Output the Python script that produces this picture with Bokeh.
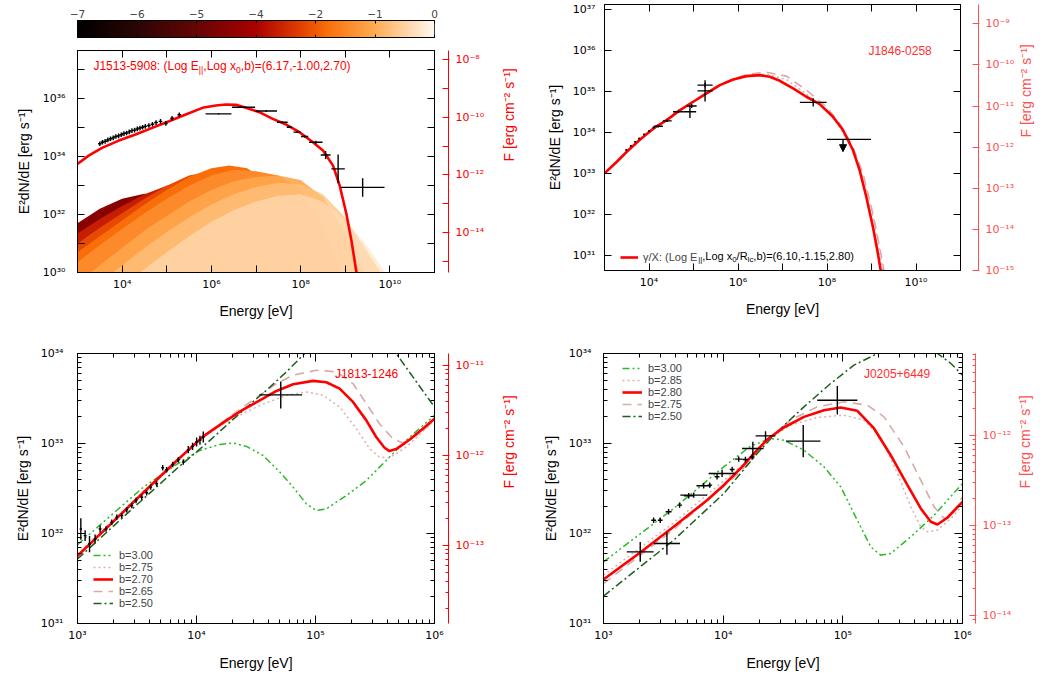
import math
import numpy as np
from bokeh.plotting import figure
from bokeh.models import (Range1d, LogAxis, LinearAxis, FixedTicker, CustomJSTickFormatter,
                          LogScale, Label, Legend, LegendItem, Arrow, NormalHead)
from bokeh.layouts import row, column
from bokeh.embed import file_html
from bokeh.resources import INLINE

FONT = "Liberation Sans"
TICKFONT = "DejaVu Sans"

# ============================ DATA (log10 values) ============================
# colour bar
cbar_tick_pos = [0, 1, 2, 3, 4, 5, 6]
cbar_tick_labels = ["\u22127", "\u22126", "\u22125", "\u22124", "\u22122", "\u22121", "0"]

# ---- J1513-5908 (top left) ----
j1513_model_logE = [3.0, 3.25, 3.55, 3.925, 4.30, 4.675, 5.05, 5.425, 5.80, 6.10, 6.326, 6.551, 6.776,
                    7.076, 7.376, 7.676, 7.976, 8.276, 8.501, 8.726, 8.876, 9.026, 9.139, 9.251]
j1513_model_logL = [33.75, 34.039, 34.304, 34.558, 34.766, 34.997, 35.227, 35.458, 35.689, 35.769, 35.804,
                    35.792, 35.689, 35.539, 35.308, 35.112, 34.847, 34.501, 34.213, 33.693, 33.001, 32.021,
                    31.099, 30.0]
j1513_x_logE = [3.50, 3.56, 3.62, 3.68, 3.74, 3.80, 3.86, 3.92, 3.98, 4.04, 4.10, 4.16, 4.22, 4.28, 4.34,
                4.40, 4.46, 4.52, 4.60, 4.68, 4.76, 4.86, 4.98, 5.12, 5.28]
j1513_x_logL = [34.45, 34.50, 34.53, 34.58, 34.62, 34.65, 34.70, 34.72, 34.76, 34.80, 34.82, 34.86, 34.90,
                34.92, 34.96, 34.99, 35.02, 35.05, 35.08, 35.12, 35.18, 35.22, 35.15, 35.33, 35.45]
j1513_x_dE = [0.04] * 25
j1513_x_dL = [0.08] * 25
j1513_g_logE = [6.16, 6.72, 7.23, 7.59, 7.75, 7.92, 8.09, 8.34, 8.56, 8.84, 9.39]
j1513_g_logL = [35.48, 35.71, 35.58, 35.19, 35.02, 34.85, 34.70, 34.50, 34.06, 33.58, 32.94]
j1513_g_dE = [0.29, 0.26, 0.24, 0.12, 0.06, 0.08, 0.08, 0.15, 0.11, 0.15, 0.49]
j1513_g_dL = [0.02, 0.02, 0.03, 0.03, 0.03, 0.03, 0.04, 0.05, 0.14, 0.50, 0.32]

# family of spectra coloured by Log((x-x_in)/R_lc) (position on colour bar, 0..1)
fam_t = [0.22, 0.32, 0.42, 0.56, 0.64, 0.70, 0.76, 0.82, 0.88, 0.95]
fam_alpha = [1.0, 1.0, 1.0, 1.0, 1.0, 1.0, 1.0, 0.9, 0.75, 0.6]
fam_logE = [
    [3.0, 3.5, 4.0, 4.5, 5.0, 5.3],
    [3.0, 3.5, 4.0, 4.5, 5.0, 5.4, 5.7],
    [3.0, 3.5, 4.0, 4.5, 5.0, 5.5, 5.9, 6.1],
    [3.0, 3.5, 4.0, 4.5, 5.0, 5.5, 6.0, 6.4, 6.7],
    [3.0, 3.5, 4.0, 4.5, 5.0, 5.5, 6.0, 6.5, 7.0, 7.4],
    [3.0, 3.5, 4.0, 4.5, 5.0, 5.5, 6.0, 6.4, 6.8, 7.2, 7.7, 8.1],
    [3.0, 3.5, 4.0, 4.5, 5.0, 5.5, 6.0, 6.5, 7.0, 7.5, 8.0, 8.5, 8.9],
    [3.3, 3.5, 4.0, 4.5, 5.0, 5.5, 6.0, 6.5, 7.0, 7.5, 8.0, 8.5, 9.0, 9.4],
    [3.8, 4.0, 4.5, 5.0, 5.5, 6.0, 6.5, 7.0, 7.5, 8.0, 8.5, 9.0, 9.5, 9.8],
    [4.4, 5.0, 5.5, 6.0, 6.5, 7.0, 7.5, 8.0, 8.5, 9.0, 9.5, 9.9],
]
fam_logL = [
    [31.0, 31.4, 31.6, 31.4, 30.7, 30.0],
    [31.5, 32.0, 32.35, 32.45, 32.1, 31.2, 30.0],
    [31.7, 32.2, 32.55, 32.72, 32.6, 32.0, 30.8, 30.0],
    [31.35, 31.85, 32.3, 32.7, 33.0, 33.1, 32.7, 31.5, 30.0],
    [31.0, 31.55, 32.05, 32.55, 33.0, 33.35, 33.5, 33.2, 31.9, 30.0],
    [30.7, 31.25, 31.8, 32.35, 32.85, 33.3, 33.6, 33.7, 33.6, 33.2, 32.0, 30.0],
    [30.35, 30.95, 31.5, 32.05, 32.55, 33.0, 33.35, 33.55, 33.5, 33.35, 32.9, 31.6, 30.0],
    [30.0, 30.25, 30.85, 31.45, 31.95, 32.45, 32.85, 33.15, 33.3, 33.35, 33.2, 32.6, 31.4, 30.0],
    [30.0, 30.25, 30.85, 31.4, 31.9, 32.35, 32.7, 32.95, 33.1, 33.05, 32.7, 31.9, 30.7, 30.0],
    [30.0, 30.7, 31.25, 31.75, 32.15, 32.45, 32.65, 32.7, 32.45, 31.8, 30.9, 30.0],
]

# ---- J1846-0258 (top right) ----
j1846_red_logE = [3.0, 3.277, 3.501, 3.80, 4.099, 4.398, 4.697, 4.995, 5.294, 5.593, 5.892, 6.191, 6.49,
                  6.714, 6.939, 7.238, 7.536, 7.835, 8.134, 8.359, 8.583, 8.732, 8.882, 9.031, 9.143, 9.218]
j1846_red_logL = [33.002, 33.286, 33.528, 33.828, 34.096, 34.298, 34.541, 34.744, 34.947, 35.149, 35.287,
                  35.368, 35.392, 35.352, 35.255, 35.069, 34.866, 34.688, 34.38, 34.056, 33.57, 33.084,
                  32.436, 31.706, 31.058, 30.572]
j1846_dash_logE = [3.0, 3.80, 4.697, 5.593, 6.191, 6.64, 7.088, 7.536, 7.985, 8.284, 8.583, 8.807, 9.031,
                   9.181, 9.293]
j1846_dash_logL = [33.002, 33.836, 34.557, 35.173, 35.408, 35.465, 35.368, 35.028, 34.623, 34.217, 33.65,
                   33.002, 32.03, 31.22, 30.571]
j1846_dot_logE = [3.0, 3.80, 4.697, 5.593, 6.191, 6.64, 7.088, 7.536, 7.985, 8.284, 8.583, 8.807, 9.031, 9.256]
j1846_dot_logL = [33.002, 33.828, 34.541, 35.157, 35.384, 35.417, 35.287, 34.931, 34.541, 34.137, 33.57,
                  32.922, 31.949, 30.652]
j1846_logE = [3.49, 3.59, 3.69, 3.78, 3.89, 4.00, 4.11, 4.21, 4.41, 4.66, 4.92, 4.96, 5.26, 5.26, 7.69]
j1846_logL = [33.57, 33.67, 33.77, 33.85, 33.95, 34.03, 34.12, 34.15, 34.28, 34.50, 34.50, 34.64, 35.01,
              35.15, 34.73]
j1846_dE = [0.02, 0.02, 0.02, 0.02, 0.02, 0.02, 0.03, 0.10, 0.10, 0.12, 0.14, 0.11, 0.17, 0.17, 0.30]
j1846_dL = [0.02, 0.02, 0.02, 0.02, 0.02, 0.02, 0.02, 0.03, 0.03, 0.03, 0.15, 0.05, 0.26, 0.05, 0.10]
j1846_ul_logE = [8.36]
j1846_ul_lo = [8.0]
j1846_ul_hi = [8.99]
j1846_ul_logL = [33.83]
j1846_ul_tip = [33.53]

# ---- J1813-1246 (bottom left) ----
j1813_b = ["b=3.00", "b=2.75", "b=2.70", "b=2.65", "b=2.50"]
j1813_logE = {
    "b=2.70": [3.0, 3.274, 3.554, 3.833, 4.057, 4.252, 4.392, 4.532, 4.672, 4.812, 4.979, 5.091, 5.203,
               5.315, 5.427, 5.51, 5.58, 5.622, 5.678, 5.79, 5.902, 6.0],
    "b=2.65": [3.0, 3.554, 4.057, 4.252, 4.392, 4.532, 4.672, 4.812, 5.007, 5.175, 5.315, 5.427, 5.538,
               5.65, 5.734, 5.846, 6.0],
    "b=2.75": [3.0, 3.554, 4.057, 4.252, 4.532, 4.756, 4.923, 5.063, 5.203, 5.343, 5.455, 5.538, 5.622,
               5.762, 6.0],
    "b=3.00": [3.0, 3.554, 3.833, 4.029, 4.197, 4.308, 4.42, 4.56, 4.70, 4.812, 4.923, 5.007, 5.091,
               5.259, 5.427, 5.594, 5.762, 6.0],
    "b=2.50": [3.0, 3.414, 3.833, 4.113, 4.392, 4.588, 4.756, 4.909, 5.0, 5.3, 5.55, 5.678, 5.818, 6.0],
}
j1813_logL = {
    "b=2.70": [31.753, 32.099, 32.455, 32.808, 33.079, 33.257, 33.376, 33.48, 33.584, 33.658, 33.696,
               33.681, 33.61, 33.462, 33.257, 33.072, 32.953, 32.916, 32.938, 33.042, 33.165, 33.276],
    "b=2.65": [31.742, 32.448, 33.079, 33.272, 33.406, 33.536, 33.666, 33.759, 33.814, 33.796, 33.666,
               33.443, 33.22, 33.053, 33.005, 33.09, 33.25],
    "b=2.75": [31.772, 32.47, 33.072, 33.239, 33.424, 33.536, 33.573, 33.536, 33.406, 33.165, 32.942,
               32.849, 32.841, 32.96, 33.257],
    "b=3.00": [31.876, 32.515, 32.767, 32.923, 32.99, 33.005, 32.968, 32.867, 32.682, 32.515, 32.329,
               32.255, 32.273, 32.422, 32.589, 32.812, 33.035, 33.313],
    "b=2.50": [31.716, 32.218, 32.719, 33.035, 33.369, 33.592, 33.796, 34.0, 34.1, 34.25, 34.12, 34.0,
               33.74, 33.406],
}
j1813_data_logE = [3.028, 3.064, 3.101, 3.148, 3.190, 3.240, 3.288, 3.330, 3.372, 3.414, 3.456, 3.492,
                   3.540, 3.581, 3.615, 3.665, 3.716, 3.749, 3.800, 3.847, 3.889, 3.931, 3.967, 4.001,
                   4.029, 4.057, 4.708]
j1813_data_logL = [32.05, 31.976, 31.883, 31.939, 32.05, 32.05, 32.125, 32.18, 32.199, 32.262, 32.31,
                   32.366, 32.403, 32.452, 32.515, 32.552, 32.73, 32.708, 32.767, 32.819, 32.793, 32.931,
                   32.968, 33.016, 33.035, 33.072, 33.54]
j1813_data_dE = [0.01] + [0.012] * 25 + [0.18]
j1813_data_dL = [0.12, 0.06, 0.09, 0.05, 0.04, 0.03, 0.03, 0.03, 0.03, 0.03, 0.03, 0.03, 0.03, 0.03,
                 0.03, 0.03, 0.03, 0.03, 0.03, 0.03, 0.03, 0.04, 0.04, 0.05, 0.05, 0.06, 0.15]

# ---- J0205+6449 (bottom right) ----
j0205_b = ["b=3.00", "b=2.85", "b=2.80", "b=2.75", "b=2.50"]
j0205_logE = {
    "b=2.80": [3.0, 3.307, 3.586, 3.865, 4.005, 4.144, 4.284, 4.368, 4.507, 4.675, 4.842, 4.982, 5.121,
               5.261, 5.40, 5.54, 5.651, 5.735, 5.791, 5.875, 6.0],
    "b=2.75": [3.0, 3.586, 4.144, 4.368, 4.563, 4.786, 5.009, 5.205, 5.344, 5.512, 5.651, 5.763, 5.847,
               5.903, 6.0],
    "b=2.85": [3.0, 3.586, 4.144, 4.368, 4.563, 4.786, 5.009, 5.177, 5.316, 5.456, 5.568, 5.651, 5.707,
               5.791, 5.903, 6.0],
    "b=3.00": [3.0, 3.586, 4.005, 4.228, 4.396, 4.507, 4.675, 4.842, 4.982, 5.121, 5.233, 5.316, 5.40,
               5.568, 5.763, 6.0],
    "b=2.50": [3.0, 3.586, 4.005, 4.284, 4.451, 4.675, 4.898, 5.093, 5.289, 5.6, 5.791, 5.903, 6.0],
}
j0205_logL = {
    "b=2.80": [31.489, 31.789, 32.074, 32.37, 32.537, 32.722, 32.926, 33.044, 33.178, 33.296, 33.37, 33.40,
               33.363, 33.167, 32.87, 32.537, 32.278, 32.13, 32.10, 32.178, 32.352],
    "b=2.75": [31.444, 32.044, 32.685, 33.044, 33.259, 33.407, 33.463, 33.426, 33.296, 32.963, 32.593,
               32.296, 32.167, 32.185, 32.407],
    "b=2.85": [31.537, 32.119, 32.741, 33.044, 33.204, 33.289, 33.315, 33.259, 33.074, 32.667, 32.296,
               32.074, 32.019, 32.037, 32.167, 32.315],
    "b=3.00": [31.685, 32.278, 32.741, 32.97, 33.056, 33.037, 32.926, 32.741, 32.519, 32.148, 31.852,
               31.759, 31.778, 31.963, 32.204, 32.556],
    "b=2.50": [31.304, 31.926, 32.444, 32.889, 33.13, 33.407, 33.667, 33.87, 34.0, 34.15, 34.0, 33.889,
               33.759],
}
j0205_data_logE = [3.307, 3.419, 3.474, 3.544, 3.530, 3.636, 3.712, 3.754, 3.837, 3.888, 3.949, 3.991,
                   4.075, 4.130, 4.186, 4.248, 4.242, 4.354, 4.669, 4.954]
j0205_data_logL = [31.796, 32.148, 32.148, 32.241, 31.889, 32.315, 32.419, 32.426, 32.53, 32.537, 32.63,
                   32.667, 32.711, 32.826, 32.822, 32.944, 32.85, 33.085, 33.026, 33.481]
j0205_data_dE = [0.112, 0.02, 0.02, 0.025, 0.109, 0.02, 0.04, 0.112, 0.06, 0.02, 0.02, 0.112, 0.02, 0.03,
                 0.025, 0.09, 0.02, 0.083, 0.144, 0.168]
j0205_data_dL = [0.11, 0.03, 0.03, 0.03, 0.126, 0.03, 0.03, 0.03, 0.03, 0.03, 0.03, 0.04, 0.03, 0.03,
                 0.03, 0.075, 0.03, 0.05, 0.18, 0.158]

# ============================ STYLE ============================
CMAP_STOPS = [(0.0, (0, 0, 0)), (0.17, (45, 5, 5)), (0.33, (100, 5, 5)), (0.5, (170, 0, 0)),
              (0.62, (225, 60, 0)), (0.7, (250, 110, 10)), (0.83, (255, 170, 80)), (1.0, (255, 248, 240))]


def cmap(t):
    for (t0, c0), (t1, c1) in zip(CMAP_STOPS[:-1], CMAP_STOPS[1:]):
        if t <= t1:
            f = (t - t0) / (t1 - t0)
            c = [int(round(a + (b - a) * f)) for a, b in zip(c0, c1)]
            return "#%02x%02x%02x" % tuple(c)
    return "#%02x%02x%02x" % CMAP_STOPS[-1][1]


PALETTE = [cmap(i / 255) for i in range(256)]

LINESTYLE = {
    "b=3.00": dict(color="#2db82d", dash="7 3 2 3 2 3 2 3", width=1.5),
    "b=2.75a": dict(color="#dcb0b0", dash="2 3", width=1.5),
    "b=2.85": dict(color="#dcb0b0", dash="2 3", width=1.5),
    "red": dict(color="#ff0000", dash="solid", width=2.6),
    "b=2.65": dict(color="#d9aaaa", dash="9 6", width=1.6),
    "b=2.75b": dict(color="#d9aaaa", dash="9 6", width=1.6),
    "b=2.50": dict(color="#1d5f1d", dash="8 3 2 3", width=1.5),
}

AW = {' ': .278, '(': .333, ')': .333, ',': .278, '-': .333, '.': .278, '/': .278, ':': .278, '=': .584,
      '+': .584, '|': .26, 'E': .667, 'J': .5, 'L': .556, 'R': .722, 'X': .667, 'b': .556, 'c': .5,
      'g': .556, 'i': .222, 'l': .222, 'n': .556, 'o': .556, 'x': .5, '\u03b3': .52, '\u2212': .584}

SUPCODE = """
const m = {'0':'\u2070','1':'\u00b9','2':'\u00b2','3':'\u00b3','4':'\u2074','5':'\u2075','6':'\u2076','7':'\u2077','8':'\u2078','9':'\u2079','-':'\u207b'};
const e = Math.round(Math.log10(tick));
return '10' + String(e).split('').map(c => m[c]).join('');
"""


def text_width(s, fs):
    return sum(AW.get(c, 0.556) for c in s) * fs


def rich(p, x, y, pieces, size, color, center=False, start=0.0, baseline="alphabetic"):
    widths = [text_width(t, size * (0.72 if s else 1.0)) for t, s in pieces]
    off = -sum(widths) / 2 if center else start
    for (txt, sub), w in zip(pieces, widths):
        fs = size * (0.72 if sub else 1.0)
        p.add_layout(Label(x=x, y=y, x_offset=off, y_offset=(-0.3 * size if sub else 0), text=txt,
                           text_font=FONT, text_font_size="%.1fpx" % fs, text_color=color,
                           text_baseline=baseline, text_align="left"))
        off += w


def decades(a, b):
    return [10.0 ** k for k in range(a, b + 1)]


def logminors(a, b):
    return [m * 10.0 ** k for k in range(a, b + 1) for m in range(2, 10)]


def style_axis(ax, ticks, minors, color="black", tin=7, minin=4, tout=0, label=None, fs="11px",
               lab_so=6, axl_so=8, axl_fs="14px"):
    ax.ticker = FixedTicker(ticks=ticks, minor_ticks=minors)
    ax.formatter = CustomJSTickFormatter(code=SUPCODE)
    ax.major_tick_in = tin
    ax.major_tick_out = tout
    ax.minor_tick_in = minin
    ax.minor_tick_out = 0
    ax.axis_line_color = color
    ax.major_tick_line_color = color
    ax.minor_tick_line_color = color
    ax.major_label_text_color = color
    ax.major_label_text_font = TICKFONT
    ax.major_label_text_font_size = fs
    ax.major_label_standoff = lab_so
    ax.axis_label = label
    ax.axis_label_text_font = FONT
    ax.axis_label_text_font_size = axl_fs
    ax.axis_label_text_font_style = "normal"
    ax.axis_label_text_color = color
    ax.axis_label_standoff = axl_so


def mirror(ticks, minors, tin, minin):
    ax = LogAxis(ticker=FixedTicker(ticks=ticks, minor_ticks=minors))
    ax.formatter = CustomJSTickFormatter(code="return ''")
    ax.major_label_text_color = None
    ax.major_label_standoff = 0
    ax.major_tick_in = tin
    ax.major_tick_out = 0
    ax.minor_tick_in = minin
    ax.minor_tick_out = 0
    return ax


def spacer(gap):
    ax = LinearAxis(ticker=FixedTicker(ticks=[]))
    ax.formatter = CustomJSTickFormatter(code="return ''")
    ax.major_label_text_color = None
    ax.major_label_standoff = 0
    ax.axis_line_color = None
    ax.major_tick_line_color = None
    ax.minor_tick_line_color = None
    ax.major_tick_in = 0
    ax.major_tick_out = 0
    ax.minor_tick_out = 0
    ax.axis_label = " "
    ax.axis_label_text_color = None
    ax.axis_label_text_font_size = "%dpx" % gap
    ax.axis_label_standoff = 0
    return ax


def panel(w, h, xr, yr, mb, fr, xt, xm, yt, ym, ft, fm, fcolor, tin, minin, ylab_so, flab_so, gap, xlab_so,
          ytick_so):
    p = figure(width=w, height=h, x_axis_type="log", y_axis_type="log",
               x_range=Range1d(10 ** xr[0], 10 ** xr[1]), y_range=Range1d(10 ** yr[0], 10 ** yr[1]),
               output_backend="svg", toolbar_location=None,
               min_border_left=mb[0], min_border_right=mb[1], min_border_top=mb[2], min_border_bottom=mb[3])
    p.xgrid.grid_line_color = None
    p.ygrid.grid_line_color = None
    p.outline_line_color = "black"
    p.outline_line_width = 1
    style_axis(p.xaxis[0], xt, xm, tin=tin, minin=minin, label="Energy [eV]", lab_so=5, axl_so=xlab_so)
    style_axis(p.yaxis[0], yt, ym, tin=tin, minin=minin, label="E\u00b2dN/dE [erg s\u207b\u00b9]",
               lab_so=ytick_so, axl_so=ylab_so)
    p.add_layout(mirror(xt, xm, tin, minin), "above")
    p.add_layout(mirror(yt, ym, tin, minin), "right")
    p.add_layout(spacer(gap), "right")
    p.extra_y_ranges = {"F": Range1d(fr[0], fr[1])}
    p.extra_y_scales = {"F": LogScale()}
    fax = LogAxis(y_range_name="F")
    style_axis(fax, ft, fm, color=fcolor, tin=6, minin=6 if minin == tin else 3, tout=1,
               label="F [erg cm\u207b\u00b2 s\u207b\u00b9]", lab_so=6, axl_so=flab_so)
    fax.axis_label_orientation = math.pi / 2
    p.add_layout(fax, "right")
    return p


def crosses(p, logE, logL, dE, dL, width=1.3):
    E, L, dE, dL = map(np.asarray, (logE, logL, dE, dL))
    p.segment(x0=10 ** (E - dE), y0=10 ** L, x1=10 ** (E + dE), y1=10 ** L, line_color="black", line_width=width)
    p.segment(x0=10 ** E, y0=10 ** (L - dL), x1=10 ** E, y1=10 ** (L + dL), line_color="black", line_width=width)


def curve(p, logE, logL, style):
    s = LINESTYLE[style]
    return p.line(10 ** np.asarray(logE), 10 ** np.asarray(logL), line_color=s["color"],
                  line_dash=s["dash"], line_width=s["width"])


def b_legend(p, renderers, labels, loc):
    items = [LegendItem(label=l, renderers=[r]) for l, r in zip(labels, renderers)]
    lg = Legend(items=items, location=loc, padding=0, margin=0, spacing=0, glyph_width=20,
                glyph_height=10, label_height=10, label_standoff=6, label_text_font=FONT,
                label_text_font_size="11px", label_text_line_height=0.95, border_line_alpha=0,
                background_fill_alpha=0)
    p.add_layout(lg)


# ============================ COLOUR BAR ============================
cb = figure(width=528, height=45, x_range=Range1d(0, 6), y_range=Range1d(0, 1), output_backend="svg",
            toolbar_location=None, x_axis_location="above", y_axis_location=None,
            min_border_left=77, min_border_right=93, min_border_top=20, min_border_bottom=8)
cb.xgrid.grid_line_color = None
cb.ygrid.grid_line_color = None
cb.outline_line_color = "black"
cb.image(image=[np.linspace(0, 1, 256).reshape(1, -1)], x=0, y=0, dw=6, dh=1, palette=PALETTE,
         level="image")
ax = cb.xaxis[0]
ax.ticker = FixedTicker(ticks=cbar_tick_pos)
ax.major_label_overrides = {k: v for k, v in zip(cbar_tick_pos, cbar_tick_labels)}
ax.major_tick_in = 3
ax.major_tick_out = 0
ax.minor_tick_line_color = None
ax.major_label_standoff = 3
ax.major_label_text_font = TICKFONT
ax.major_label_text_font_size = "10.5px"
bax = LinearAxis(ticker=FixedTicker(ticks=cbar_tick_pos), major_label_text_color=None,
                 formatter=CustomJSTickFormatter(code="return ''"),
                 major_label_standoff=0, major_tick_in=3, major_tick_out=0, minor_tick_line_color=None)
cb.add_layout(bax, "below")
rich(cb, 3, 1.74, [("Log((x\u2212x", False), ("in", True), (")/R", False), ("lc", True), (")", False)],
     10.5, "black", center=True)

# ============================ PANEL 1: J1513-5908 ============================
p1 = panel(528, 293, (3, 11), (30, 37.67), (77, 93, 5, 66), (10 ** (30 - 45.37), 10 ** (37.67 - 45.37)),
           [1e4, 1e6, 1e8, 1e10], [1e5, 1e7, 1e9], [1e30, 1e32, 1e34, 1e36], [1e31, 1e33, 1e35, 1e37],
           [1e-8, 1e-10, 1e-12, 1e-14], [1e-9, 1e-11, 1e-13, 1e-15], "#ff0000", 7, 7, 8, 22, 10, 9, 12)
for t, a, le, ll in zip(fam_t, fam_alpha, fam_logE, fam_logL):
    p1.varea(x=10 ** np.asarray(le), y1=1e29, y2=10 ** np.asarray(ll), fill_color=cmap(t), fill_alpha=a)
curve(p1, j1513_model_logE, j1513_model_logL, "red")
crosses(p1, j1513_x_logE, j1513_x_logL, j1513_x_dE, j1513_x_dL, width=1.4)
crosses(p1, j1513_g_logE, j1513_g_logL, j1513_g_dE, j1513_g_dL, width=1.4)
rich(p1, 10 ** 3.357, 10 ** 37.12,
     [("J1513-5908: (Log E", False), ("||", True), (",Log x", False), ("0", True),
      (",b)=(6.17,-1.00,2.70)", False)], 12, "#ff0000")

# ============================ PANEL 2: J1846-0258 ============================
RED2 = "#ff5050"
p2 = panel(518, 338, (3, 11), (30.64, 37.11), (76, 86, 4, 68), (1e-15, 10 ** (37.11 - 45.64)),
           [1e4, 1e6, 1e8, 1e10], [1e5, 1e7, 1e9], decades(31, 37), [], decades(-15, -9), [],
           RED2, 7, 7, 7, 9, 13, 9, 9)
curve(p2, j1846_dot_logE, j1846_dot_logL, "b=2.85")
curve(p2, j1846_dash_logE, j1846_dash_logL, "b=2.65")
r2 = curve(p2, j1846_red_logE, j1846_red_logL, "red")
crosses(p2, j1846_logE, j1846_logL, j1846_dE, j1846_dL, width=1.4)
ulE = 10 ** np.asarray(j1846_ul_logE)
p2.segment(x0=10 ** np.asarray(j1846_ul_lo), y0=10 ** np.asarray(j1846_ul_logL),
           x1=10 ** np.asarray(j1846_ul_hi), y1=10 ** np.asarray(j1846_ul_logL), line_color="black", line_width=1.4)
p2.add_layout(Arrow(end=NormalHead(size=7, fill_color="black", line_color="black"),
                    x_start=ulE[0], y_start=10 ** j1846_ul_logL[0], x_end=ulE[0], y_end=10 ** j1846_ul_tip[0],
                    line_color="black", line_width=1.4))
LEG2_FIRST = "\u03b3/X: (Log E"
p2.add_layout(Legend(items=[LegendItem(label=LEG2_FIRST, renderers=[r2])], location=(16, 7), padding=0,
                     margin=0, glyph_width=18, glyph_height=8, label_height=8, label_standoff=5,
                     label_text_font=FONT, label_text_font_size="11px", border_line_alpha=0,
                     background_fill_alpha=0))
rich(p2, 10 ** 3.0, 10 ** (30.64 + 14 / 41.1),
     [("||", True), (",Log x", False), ("0", True), ("/R", False),
      ("lc", True), (",b)=(6.10,-1.15,2.80)", False)], 11, "black",
     start=16 + 18 + 5 + text_width(LEG2_FIRST, 11), baseline="middle")
p2.add_layout(Label(x=10 ** 8.93, y=10 ** 35.82, text="J1846-0258", text_font=FONT, text_font_size="12px",
                    text_color="#ff3030"))

# ============================ PANEL 3: J1813-1246 ============================
p3 = panel(528, 341, (3, 6), (31, 34), (77, 93, 15, 56), (10 ** (31 - 44.87), 10 ** (34 - 44.87)),
           decades(3, 6), logminors(3, 5), decades(31, 34), logminors(31, 33), decades(-14, -11),
           logminors(-14, -11), "#ff0000", 8, 4, 7, 22, 10, 10, 14)
rend3 = {}
rend3["b=3.00"] = curve(p3, j1813_logE["b=3.00"], j1813_logL["b=3.00"], "b=3.00")
rend3["b=2.75"] = curve(p3, j1813_logE["b=2.75"], j1813_logL["b=2.75"], "b=2.75a")
rend3["b=2.65"] = curve(p3, j1813_logE["b=2.65"], j1813_logL["b=2.65"], "b=2.65")
rend3["b=2.50"] = curve(p3, j1813_logE["b=2.50"], j1813_logL["b=2.50"], "b=2.50")
rend3["b=2.70"] = curve(p3, j1813_logE["b=2.70"], j1813_logL["b=2.70"], "red")
crosses(p3, j1813_data_logE, j1813_data_logL, j1813_data_dE, j1813_data_dL, width=1.4)
b_legend(p3, [rend3[b] for b in j1813_b], j1813_b, (16, 14))
p3.add_layout(Label(x=10 ** 5.163, y=10 ** 33.69, text="J1813-1246", text_font=FONT, text_font_size="12px",
                    text_color="#ff0000"))

# ============================ PANEL 4: J0205+6449 ============================
p4 = panel(518, 341, (3, 6), (31, 34), (75, 84, 15, 56), (10 ** (31 - 45.09), 10 ** (34 - 45.09)),
           decades(3, 6), logminors(3, 5), decades(31, 34), logminors(31, 33), decades(-14, -11),
           logminors(-15, -12), RED2, 8, 4, 7, 11, 9, 10, 12)
rend4 = {}
rend4["b=3.00"] = curve(p4, j0205_logE["b=3.00"], j0205_logL["b=3.00"], "b=3.00")
rend4["b=2.85"] = curve(p4, j0205_logE["b=2.85"], j0205_logL["b=2.85"], "b=2.85")
rend4["b=2.75"] = curve(p4, j0205_logE["b=2.75"], j0205_logL["b=2.75"], "b=2.75b")
rend4["b=2.50"] = curve(p4, j0205_logE["b=2.50"], j0205_logL["b=2.50"], "b=2.50")
rend4["b=2.80"] = curve(p4, j0205_logE["b=2.80"], j0205_logL["b=2.80"], "red")
crosses(p4, j0205_data_logE, j0205_data_logL, j0205_data_dE, j0205_data_dL, width=1.4)
b_legend(p4, [rend4[b] for b in j0205_b], j0205_b, (19, 201))
p4.add_layout(Label(x=10 ** 5.176, y=10 ** 33.69, text="J0205+6449", text_font=FONT, text_font_size="12px",
                    text_color="#ff3030"))

layout = column(row(column(cb, p1), p2), row(p3, p4))
open("out.html", "w").write(file_html(layout, INLINE))
